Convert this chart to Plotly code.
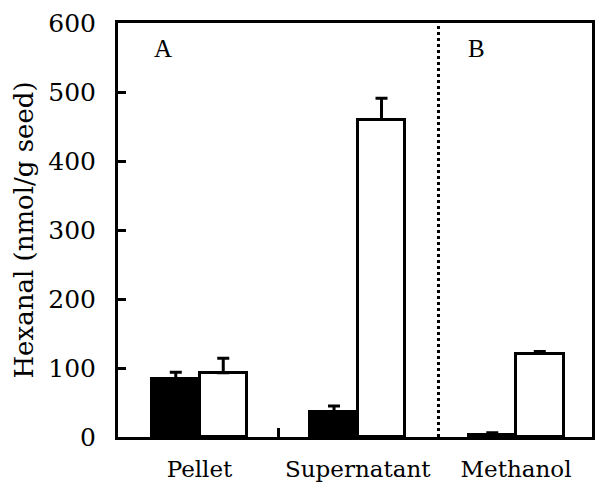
import plotly.graph_objects as go

groups = ["Pellet", "Supernatant", "Methanol"]
group_pos = [0, 1, 2]
black_vals = [84, 36, 3]
black_err = [10, 9, 3]
white_vals = [93, 460, 121]
white_err = [21, 31, 3]
y_ticks = [0, 100, 200, 300, 400, 500, 600]

FONT = "DejaVu Serif"
bw = 0.30

fig = go.Figure()
fig.add_trace(go.Bar(
    x=group_pos, y=black_vals, width=bw, offset=-bw,
    marker=dict(color="black", line=dict(color="black", width=3)),
    error_y=dict(type="data", array=black_err, symmetric=False, arrayminus=[0, 0, 0],
                 color="black", thickness=3, width=6),
    showlegend=False,
))
fig.add_trace(go.Bar(
    x=group_pos, y=white_vals, width=bw, offset=0,
    marker=dict(color="white", line=dict(color="black", width=3)),
    error_y=dict(type="data", array=white_err, symmetric=False, arrayminus=[0, 0, 0],
                 color="black", thickness=3, width=6),
    showlegend=False,
))

# dotted separator between A and B
fig.add_shape(type="line", xref="x", yref="paper", x0=1.51, x1=1.51, y0=0, y1=1,
              line=dict(color="black", width=3, dash="dot"))

fig.add_annotation(x=-0.23, y=563, text="A", showarrow=False, xref="x", yref="y",
                   font=dict(family="Liberation Serif", size=25, color="black"))
fig.add_annotation(x=1.75, y=563, text="B", showarrow=False, xref="x", yref="y",
                   font=dict(family="Liberation Serif", size=25, color="black"))

fig.update_layout(
    width=599, height=486,
    margin=dict(l=118, r=4, t=23, b=49),
    paper_bgcolor="white", plot_bgcolor="white",
    bargap=0,
    font=dict(family=FONT, color="black"),
)
fig.update_xaxes(
    range=[-0.515, 2.48],
    tickmode="array", tickvals=group_pos, ticktext=groups,
    ticks="", tickfont=dict(family=FONT, size=23, color="black"),
    ticklabelstandoff=9,
    showline=True, linecolor="black", linewidth=3, mirror=True,
    showgrid=False, zeroline=False,
    minor=dict(tickmode="array", tickvals=[0.5], ticks="inside", ticklen=9,
               tickwidth=3, tickcolor="black", showgrid=False),
)
fig.update_yaxes(
    range=[0, 600],
    tickmode="array", tickvals=y_ticks,
    ticks="inside", ticklen=8, tickwidth=3, tickcolor="black",
    tickfont=dict(family=FONT, size=25, color="black"),
    ticklabelstandoff=14,
    title=dict(text="Hexanal (nmol/g seed)", font=dict(family=FONT, size=26, color="black"), standoff=8),
    showline=True, linecolor="black", linewidth=3, mirror=True,
    showgrid=False, zeroline=False,
)

fig.write_html("out.html", config={"displayModeBar": False},
               post_script="document.body.style.margin='0';")
